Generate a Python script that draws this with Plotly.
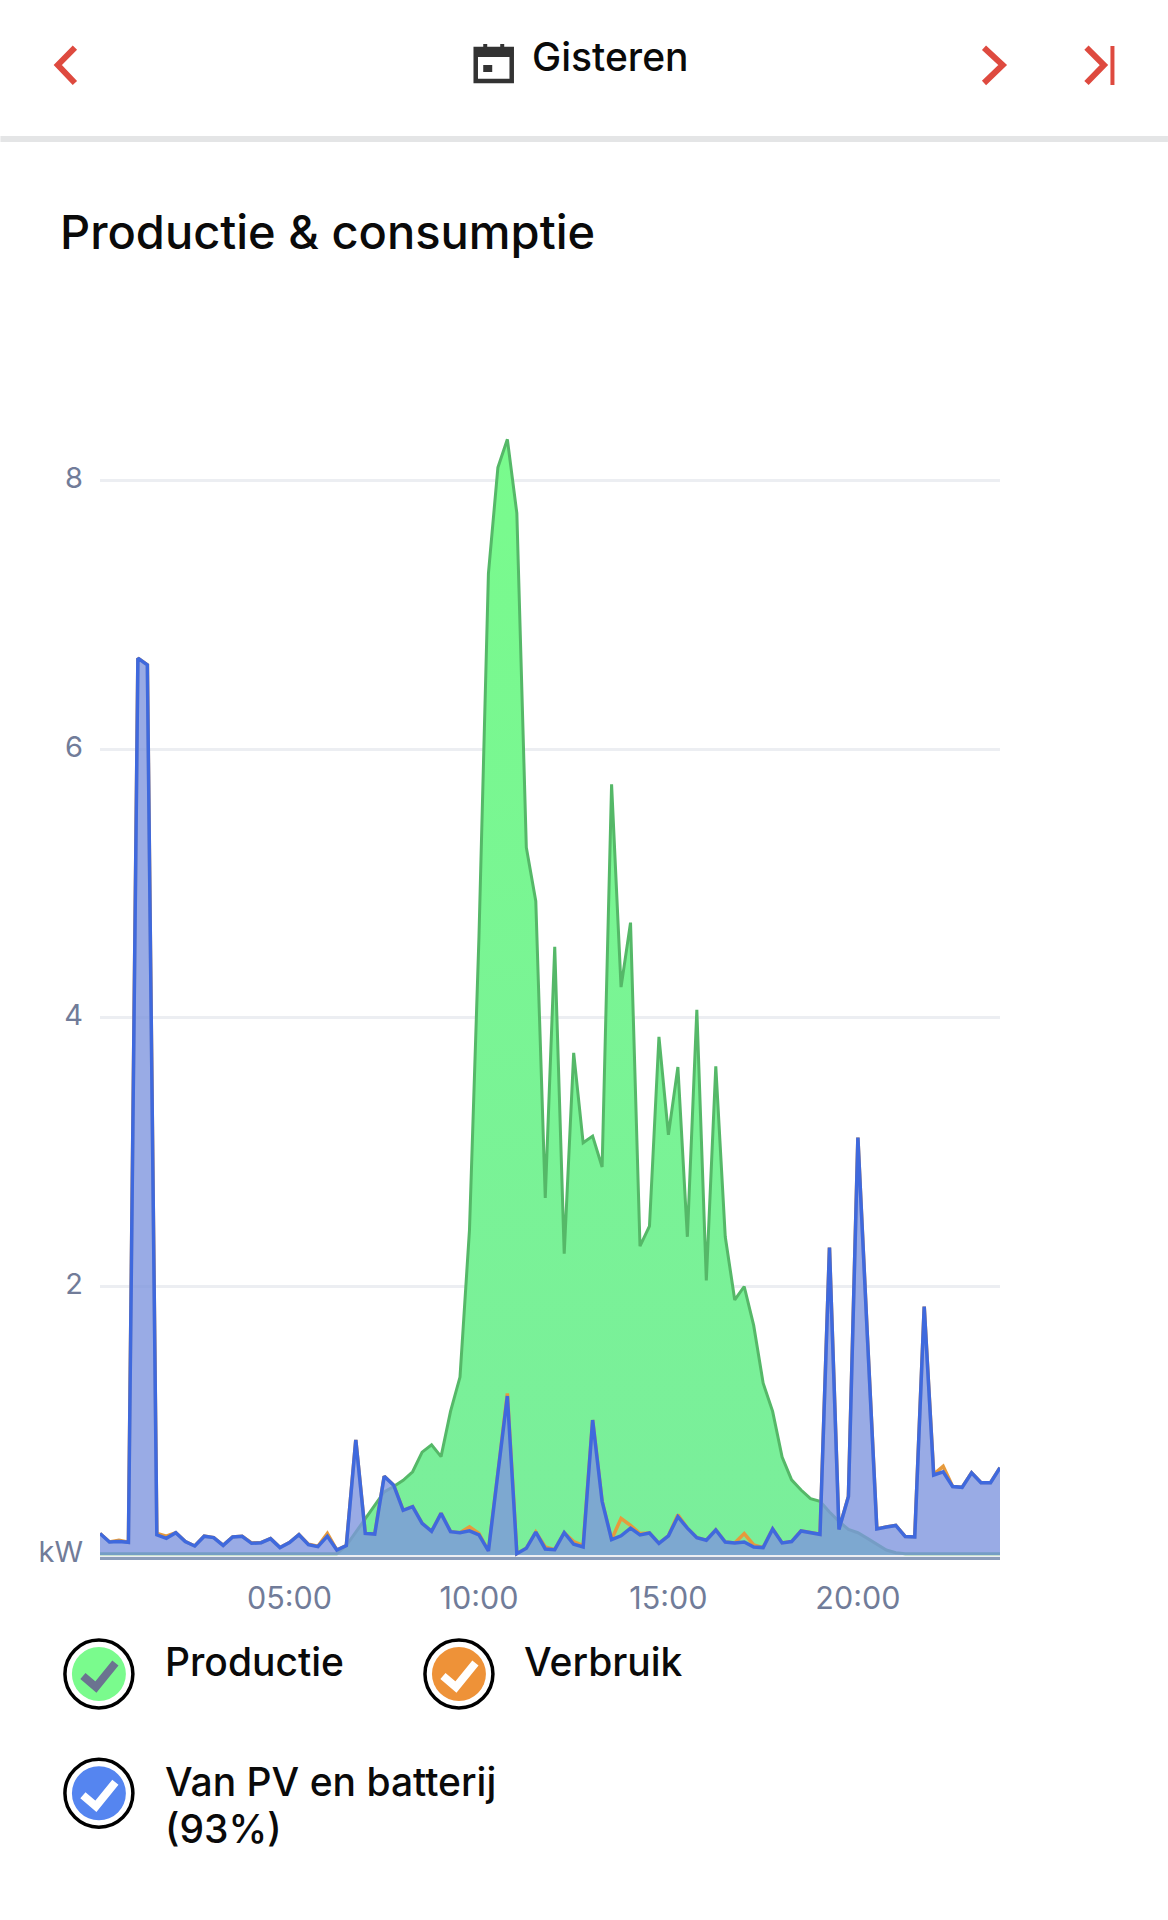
import plotly.graph_objects as go

times = [f"{h:02d}:{m:02d}" for h in range(24) for m in (0, 15, 30, 45)]

production = [0.01,0.01,0.01,0.01,0.01,0.01,0.01,0.01,0.01,0.01,0.01,0.01,
 0.01,0.01,0.01,0.01,0.01,0.01,0.01,0.01,0.01,0.01,0.01,0.01,0.01,0.01,
 0.07,0.17,0.27,0.37,0.47,0.51,0.556,0.62,0.766,0.82,0.733,1.07,1.325,2.42,
 4.6,7.31,8.10,8.31,7.76,5.27,4.87,2.66,4.53,2.244,3.74,3.07,3.12,2.89,5.74,
 4.23,4.71,2.30,2.45,3.86,3.13,3.635,2.37,4.06,2.045,3.64,2.37,1.90,2.0,1.71,
 1.28,1.07,0.73,0.56,0.484,0.42,0.40,0.32,0.25,0.19,0.166,0.124,0.08,0.037,
 0.017,0.01,0.01,0.01,0.01,0.01,0.01,0.01,0.01,0.01,0.01,0.01]

consumption = [0.16,0.097,0.11,0.095,6.68,6.63,0.16,0.14,0.166,0.10,0.067,0.14,
 0.13,0.072,0.134,0.139,0.09,0.092,0.122,0.055,0.092,0.151,0.08,0.065,0.16,0.037,
 0.07,0.857,0.161,0.156,0.586,0.52,0.333,0.36,0.236,0.176,0.31,0.174,0.166,0.21,
 0.16,0.03,0.61,1.204,0.01,0.05,0.17,0.06,0.04,0.166,0.10,0.07,1.005,0.40,0.115,
 0.273,0.22,0.16,0.164,0.086,0.143,0.30,0.2,0.129,0.11,0.186,0.097,0.09,0.16,0.075,
 0.055,0.194,0.09,0.10,0.179,0.166,0.154,2.29,0.19,0.435,3.11,1.63,0.194,0.209,0.22,
 0.137,0.134,1.85,0.60,0.66,0.51,0.504,0.613,0.539,0.539,0.65]

from_pv_battery = [0.16,0.097,0.10,0.095,6.68,6.63,0.15,0.124,0.166,0.10,0.067,0.14,
 0.13,0.072,0.134,0.139,0.087,0.092,0.122,0.055,0.092,0.151,0.077,0.062,0.14,0.037,
 0.07,0.857,0.161,0.156,0.586,0.52,0.333,0.36,0.236,0.176,0.31,0.174,0.166,0.18,
 0.15,0.03,0.61,1.184,0.01,0.05,0.17,0.045,0.04,0.166,0.08,0.06,1.005,0.40,0.115,
 0.143,0.20,0.149,0.164,0.086,0.143,0.286,0.2,0.129,0.11,0.186,0.097,0.09,0.097,0.06,
 0.055,0.194,0.09,0.10,0.179,0.166,0.154,2.29,0.19,0.435,3.11,1.63,0.194,0.209,0.22,
 0.137,0.134,1.85,0.596,0.62,0.51,0.504,0.613,0.539,0.539,0.65]

x_ticks = ["05:00", "10:00", "15:00", "20:00"]
y_ticks = [0, 2, 4, 6, 8]
y_tick_text = ["kW", "2", "4", "6", "8"]

W, H = 1168, 1920
L, R, T, B = 99.6, 1000.0, 400.0, 1557.0
FONT = "Inter, Roboto, sans-serif"
RED = "#DE4A3F"
GRAY = "#717C99"


def px(x):
    return (x - L) / (R - L)


def py(y):
    return (B - y) / (B - T)


def path(points, close=False):
    d = "M " + " L ".join(f"{px(a):.5f},{py(b):.5f}" for a, b in points)
    return d + (" Z" if close else "")


shapes = []


def line_shape(points, color, width, close=False, fill=None):
    s = dict(type="path", xref="paper", yref="paper", path=path(points, close),
             line=dict(color=color, width=width))
    if fill:
        s["fillcolor"] = fill
    shapes.append(s)


def rect(x0, y0, x1, y1, color):
    shapes.append(dict(type="rect", xref="paper", yref="paper",
                       x0=px(x0), x1=px(x1), y0=py(y0), y1=py(y1),
                       fillcolor=color, line=dict(width=0)))


def circle(cx, cy, r, fill, line=None, lw=0):
    shapes.append(dict(type="circle", xref="paper", yref="paper",
                       x0=px(cx - r), x1=px(cx + r), y0=py(cy - r), y1=py(cy + r),
                       fillcolor=fill, line=dict(color=line or fill, width=lw)))


# header
line_shape([(74.5, 47.7), (57.4, 65), (74.5, 83)], RED, 6)
line_shape([(984, 47.7), (1002.7, 65), (984, 83)], RED, 6)
line_shape([(1086.5, 47.7), (1104, 65), (1086.5, 83)], RED, 6)
rect(1110.5, 46, 1114.5, 85, RED)
rect(0, 136, W, 142, "#E4E5E6")

# calendar icon
DARK = "#333333"
shapes.append(dict(type="rect", xref="paper", yref="paper", x0=px(475.5), x1=px(511.5),
                   y0=py(49), y1=py(81), fillcolor="white", line=dict(color=DARK, width=4.5)))
rect(474, 47, 513, 57, DARK)
rect(483, 44, 487, 50, DARK)
rect(500, 44, 504, 50, DARK)
rect(483, 65, 492, 72, DARK)


# legend markers
def marker(cx, cy, fill, check):
    circle(cx, cy, 34, "white", "black", 3.5)
    circle(cx, cy, 27, fill)
    line_shape([(cx - 16, cy + 2), (cx - 3, cy + 13), (cx + 16.5, cy - 11)], check, 8)


marker(98.5, 1674, "#7AFB8D", "#6B7390")
marker(458.7, 1674, "#EE9238", "white")
marker(98.5, 1793.3, "#5585F0", "white")


def label(text, x, y, size, color="#0A0A0A"):
    return dict(text=text, xref="paper", yref="paper", x=px(x), y=py(y), xanchor="left",
                yanchor="middle", showarrow=False, align="left",
                font=dict(family=FONT, size=size, color=color, weight=500))


annotations = [
    label("Gisteren", 529.5, 56.5, 39),
    label("Productie &amp; consumptie", 58, 231.5, 47),
    label("Productie", 162.5, 1661, 39),
    label("Verbruik", 522, 1661, 39),
    label("Van PV en batterij", 162.5, 1781, 39),
    label("(93%)", 162.5, 1828, 39),
]

fig = go.Figure()
fig.add_trace(go.Scatter(
    x=times, y=production, name="Productie", mode="lines",
    line=dict(color="#55B868", width=3), fill="tozeroy",
    fillgradient=dict(type="vertical",
                      colorscale=[[0, "#7AEE9B"], [1, "#79FB8D"]]),
))
fig.add_trace(go.Scatter(
    x=times, y=consumption, name="Verbruik", mode="lines",
    line=dict(color="#E69A3C", width=3.5), fill="tozeroy",
    fillcolor="rgba(232,153,58,0.12)",
))
fig.add_trace(go.Scatter(
    x=times, y=from_pv_battery, name="Van PV en batterij", mode="lines",
    line=dict(color="#3F69DD", width=3.5), fill="tozeroy",
    fillcolor="rgba(122,150,228,0.77)",
))

fig.update_layout(
    width=W, height=H, showlegend=False, hovermode=False,
    paper_bgcolor="white", plot_bgcolor="white",
    margin=dict(l=L, r=W - R, t=T, b=H - B, autoexpand=False),
    shapes=shapes, annotations=annotations,
    font=dict(family=FONT, color=GRAY, size=30),
    xaxis=dict(type="category", categoryorder="array", categoryarray=times,
               range=[0, 95], tickmode="array", tickvals=x_ticks, ticktext=x_ticks,
               showgrid=False, zeroline=False, showline=True,
               linecolor="#8C9DBA", linewidth=2.5, ticks="", ticklabelstandoff=13,
               tickangle=0, tickfont=dict(size=30.5, color=GRAY)),
    yaxis=dict(range=[-0.0149, 8.603], tickmode="array", tickvals=y_ticks,
               ticktext=y_tick_text, showgrid=True, gridcolor="#ECEEF2", gridwidth=2.5,
               zeroline=False, showline=False, ticks="", ticklabelstandoff=16,
               ticklabelshift=-3, tickfont=dict(size=29, color=GRAY)),
)

fig.write_html("out.html", config={"displayModeBar": False},
               post_script="document.body.style.margin='0';")
